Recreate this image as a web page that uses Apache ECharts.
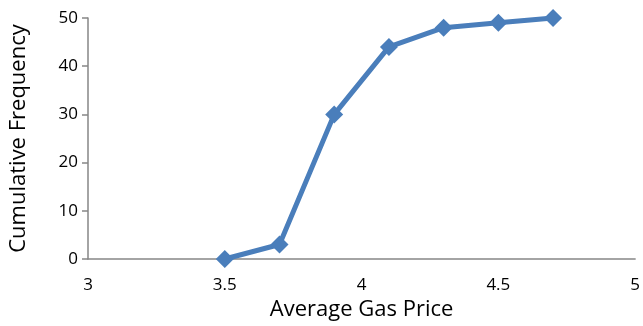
<!DOCTYPE html>
<html>
<head>
<meta charset="utf-8">
<script src="https://cdn.jsdelivr.net/npm/echarts@6/dist/echarts.min.js"></script>
<style>
  html, body { margin: 0; padding: 0; background: #fff; }
  #chart { width: 643px; height: 326px; }
</style>
</head>
<body>
<div id="chart"></div>
<script>
// Average gas price (x) against cumulative frequency (y)
const prices = [3.5, 3.7, 3.9, 4.1, 4.3, 4.5, 4.7];
const cumulativeFreq = [0, 3, 30, 44, 48, 49, 50];
const xTicks = [3, 3.5, 4, 4.5, 5];
const yTicks = [0, 10, 20, 30, 40, 50];

const points = prices.map((p, i) => [p, cumulativeFreq[i]]);
const font = '"Open Sans", "Liberation Sans", sans-serif';

const chart = echarts.init(document.getElementById('chart'), null, { renderer: 'canvas' });
chart.setOption({
  animation: false,
  backgroundColor: '#ffffff',
  grid: { left: 86, right: 3, top: 18, bottom: 63, containLabel: false },
  xAxis: {
    type: 'value',
    min: xTicks[0],
    max: xTicks[xTicks.length - 1],
    interval: 0.5,
    name: 'Average Gas Price',
    nameLocation: 'middle',
    nameGap: 40,
    nameTextStyle: { fontFamily: font, fontSize: 22, color: '#000' },
    axisLine: { show: true, lineStyle: { color: '#868686', width: 1.5 } },
    axisTick: { show: false },
    splitLine: { show: false },
    axisLabel: { fontFamily: font, fontSize: 17, color: '#000', margin: 18,
      formatter: v => String(v) }
  },
  yAxis: {
    type: 'value',
    min: yTicks[0],
    max: yTicks[yTicks.length - 1],
    interval: 10,
    name: 'Cumulative Frequency',
    nameLocation: 'middle',
    nameGap: 58,
    nameTextStyle: { fontFamily: font, fontSize: 22, color: '#000' },
    axisLine: { show: true, lineStyle: { color: '#868686', width: 1.5 } },
    axisTick: { show: true, inside: false, length: 6, lineStyle: { color: '#868686', width: 1.5 } },
    splitLine: { show: false },
    axisLabel: { fontFamily: font, fontSize: 17, color: '#000', margin: 10 }
  },
  series: [{
    type: 'line',
    data: points,
    lineStyle: { color: '#4a7ebb', width: 5 },
    itemStyle: { color: '#4a7ebb' },
    symbol: 'diamond',
    symbolSize: 18,
    showSymbol: true
  }]
});
</script>
</body>
</html>
